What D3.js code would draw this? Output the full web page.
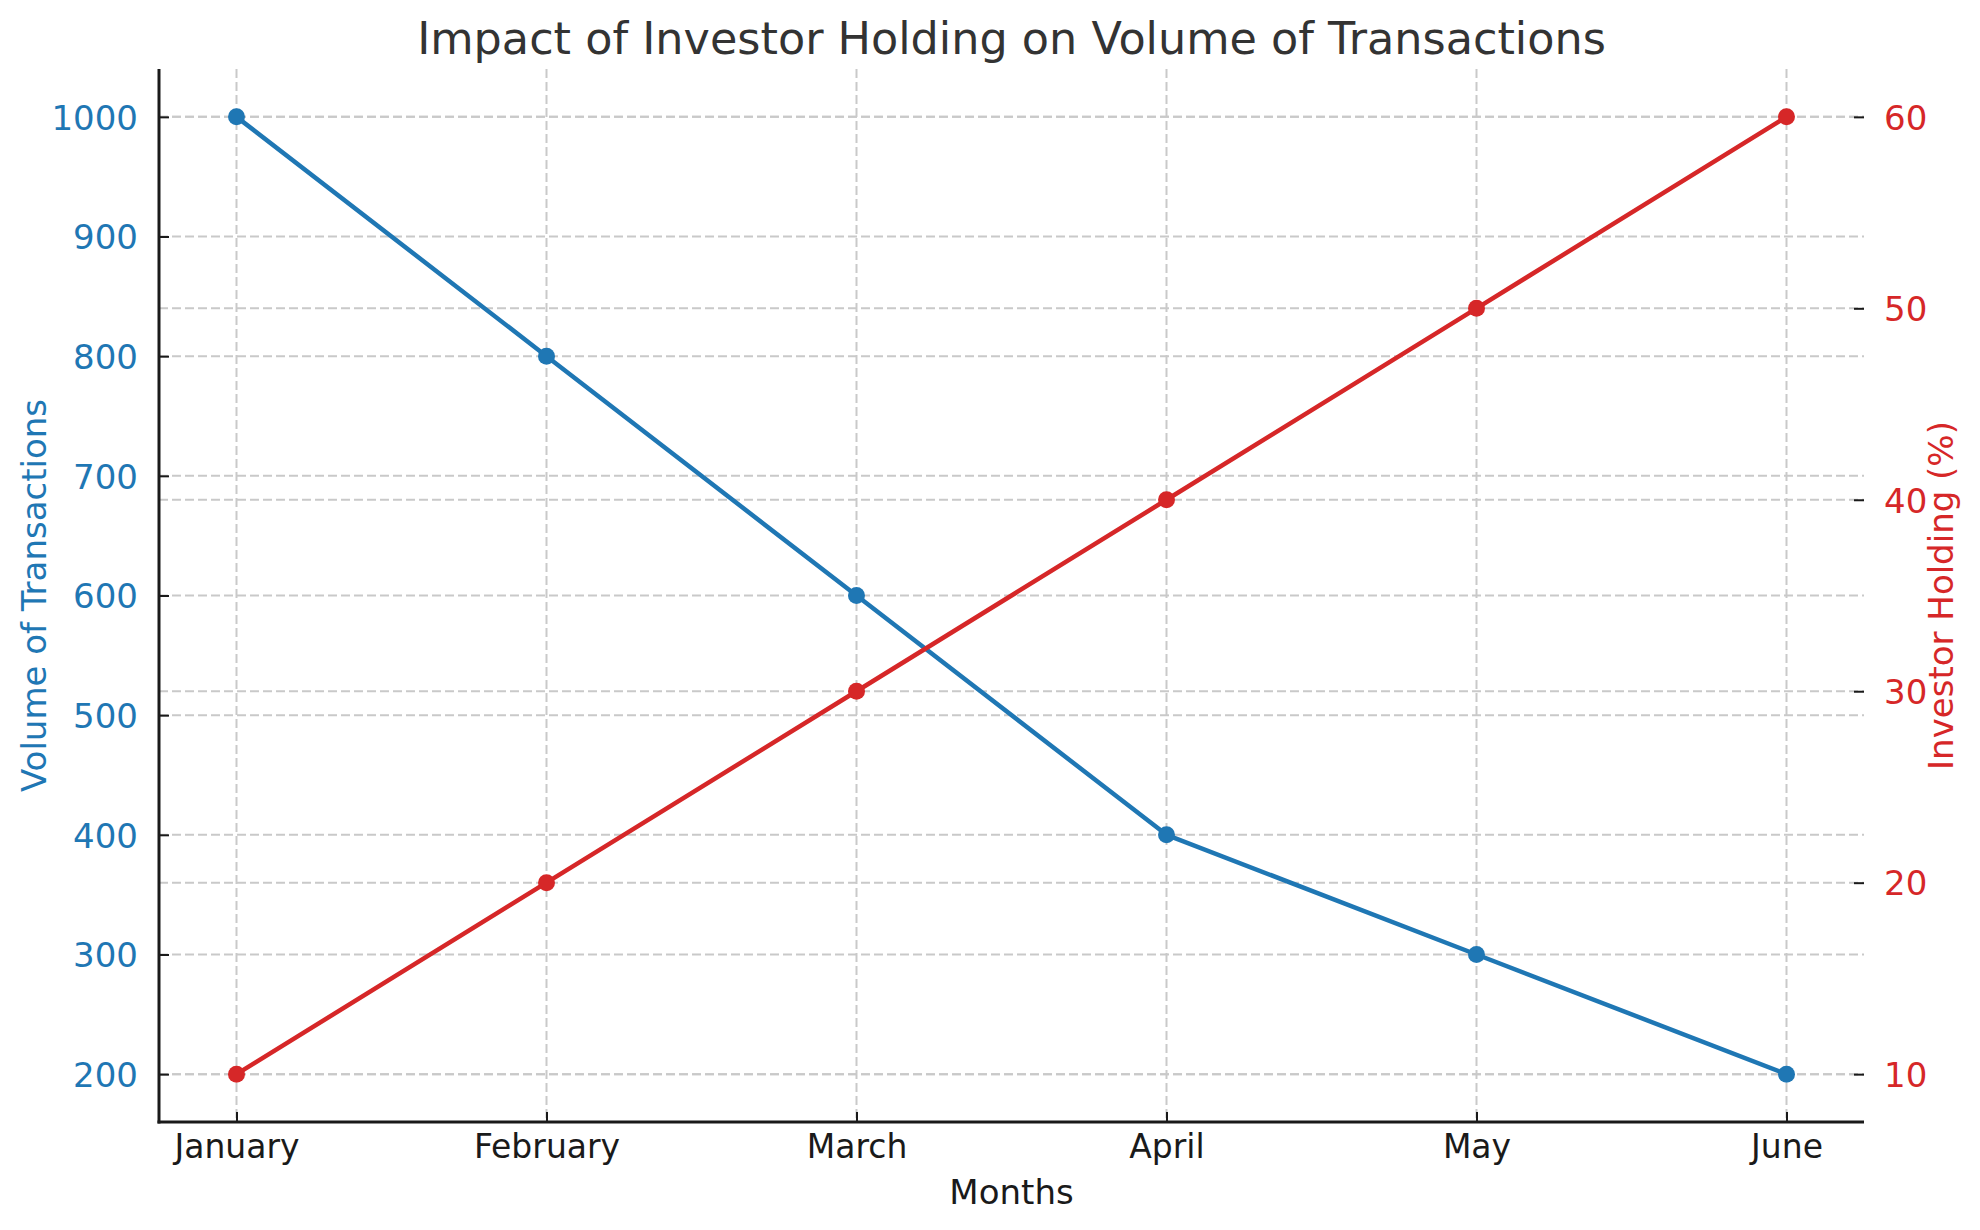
<!DOCTYPE html>
<html>
<head>
<meta charset="utf-8">
<script src="https://cdn.jsdelivr.net/npm/d3@7"></script>
<style>
  html, body { margin: 0; padding: 0; background: #fff; }
  svg { display: block; font-family: "DejaVu Sans", sans-serif; }
</style>
</head>
<body>
<svg id="chart" width="1980" height="1230"></svg>
<script>
const months = ["January", "February", "March", "April", "May", "June"];
const volume = [1000, 800, 600, 400, 300, 200];
const holding = [10, 20, 30, 40, 50, 60];
const volumeTicks = [200, 300, 400, 500, 600, 700, 800, 900, 1000];
const holdingTicks = [10, 20, 30, 40, 50, 60];

const W = 1980, H = 1230;
const m = { left: 159, right: 1864, top: 69, bottom: 1122 };
const blue = "#1f77b4", red = "#d62728";

const svg = d3.select("#chart");

const x = d3.scalePoint().domain(months).range([m.left, m.right]).padding(0.25);
const yL = d3.scaleLinear().domain([160, 1040]).range([m.bottom, m.top]);
const yR = d3.scaleLinear().domain([7.5, 62.5]).range([m.bottom, m.top]);

const gridColor = "#c9c9c9";
const dash = "9,4";

// grid
const grid = svg.append("g");
grid.selectAll(".vg").data(months).join("line")
  .attr("x1", d => x(d)).attr("x2", d => x(d))
  .attr("y1", m.top).attr("y2", m.bottom)
  .attr("stroke", gridColor).attr("stroke-width", 2).attr("stroke-dasharray", dash);
grid.selectAll(".hgl").data(volumeTicks).join("line")
  .attr("x1", m.left).attr("x2", m.right)
  .attr("y1", d => yL(d)).attr("y2", d => yL(d))
  .attr("stroke", gridColor).attr("stroke-width", 2).attr("stroke-dasharray", dash);
grid.selectAll(".hgr").data(holdingTicks).join("line")
  .attr("x1", m.left).attr("x2", m.right)
  .attr("y1", d => yR(d)).attr("y2", d => yR(d))
  .attr("stroke", gridColor).attr("stroke-width", 2).attr("stroke-dasharray", dash);

// lines
const lineL = d3.line().x((d, i) => x(months[i])).y(d => yL(d));
const lineR = d3.line().x((d, i) => x(months[i])).y(d => yR(d));

svg.append("path").datum(volume).attr("d", lineL)
  .attr("fill", "none").attr("stroke", blue).attr("stroke-width", 4.5)
  .attr("stroke-linejoin", "round");
svg.append("g").selectAll("circle").data(volume).join("circle")
  .attr("cx", (d, i) => x(months[i])).attr("cy", d => yL(d)).attr("r", 8.5)
  .attr("fill", blue);

svg.append("path").datum(holding).attr("d", lineR)
  .attr("fill", "none").attr("stroke", red).attr("stroke-width", 4.5)
  .attr("stroke-linejoin", "round");
svg.append("g").selectAll("circle").data(holding).join("circle")
  .attr("cx", (d, i) => x(months[i])).attr("cy", d => yR(d)).attr("r", 8.5)
  .attr("fill", red);

// axes
const axisColor = "#1a1a1a";
// left axis
const gL = svg.append("g").attr("transform", `translate(${m.left},0)`);
gL.call(d3.axisLeft(yL).tickValues(volumeTicks).tickFormat(d3.format("d"))
  .tickSizeInner(-10).tickSizeOuter(0).tickPadding(21));
gL.select(".domain").remove();
gL.selectAll(".tick line").attr("stroke", axisColor).attr("stroke-width", 2);
gL.selectAll(".tick text").attr("fill", blue).attr("font-size", 34)
  .attr("font-family", "DejaVu Sans").attr("dy", "0.36em");

// right axis
const gR = svg.append("g").attr("transform", `translate(${m.right},0)`);
gR.call(d3.axisRight(yR).tickValues(holdingTicks).tickFormat(d3.format("d"))
  .tickSizeInner(-10).tickSizeOuter(0).tickPadding(20));
gR.select(".domain").remove();
gR.selectAll(".tick line").attr("stroke", axisColor).attr("stroke-width", 2);
gR.selectAll(".tick text").attr("fill", red).attr("font-size", 34)
  .attr("font-family", "DejaVu Sans").attr("dy", "0.36em");

// bottom axis
const gB = svg.append("g").attr("transform", `translate(0,${m.bottom})`);
gB.call(d3.axisBottom(x).tickSizeInner(-10).tickSizeOuter(0).tickPadding(13));
gB.select(".domain").remove();
gB.selectAll(".tick line").attr("stroke", axisColor).attr("stroke-width", 2);
gB.selectAll(".tick text").attr("fill", "#1a1a1a").attr("font-size", 33)
  .attr("font-family", "DejaVu Sans").attr("dy", "0.71em");

// spines
svg.append("line").attr("x1", m.left).attr("x2", m.left)
  .attr("y1", m.top).attr("y2", m.bottom + 1.5)
  .attr("stroke", axisColor).attr("stroke-width", 3);
svg.append("line").attr("x1", m.left - 1.5).attr("x2", m.right)
  .attr("y1", m.bottom).attr("y2", m.bottom)
  .attr("stroke", axisColor).attr("stroke-width", 3);

// title
svg.append("text").attr("x", (m.left + m.right) / 2).attr("y", 54)
  .attr("text-anchor", "middle").attr("font-size", 44.5).attr("fill", "#333333")
  .text("Impact of Investor Holding on Volume of Transactions");

// x label
svg.append("text").attr("x", (m.left + m.right) / 2).attr("y", 1204)
  .attr("text-anchor", "middle").attr("font-size", 34).attr("fill", "#1a1a1a")
  .text("Months");

// left y label
svg.append("text")
  .attr("transform", `translate(46,${(m.top + m.bottom) / 2}) rotate(-90)`)
  .attr("text-anchor", "middle").attr("font-size", 34).attr("fill", blue)
  .text("Volume of Transactions");

// right y label
svg.append("text")
  .attr("transform", `translate(1953,${(m.top + m.bottom) / 2}) rotate(-90)`)
  .attr("text-anchor", "middle").attr("font-size", 34).attr("fill", red)
  .text("Investor Holding (%)");
</script>
</body>
</html>
